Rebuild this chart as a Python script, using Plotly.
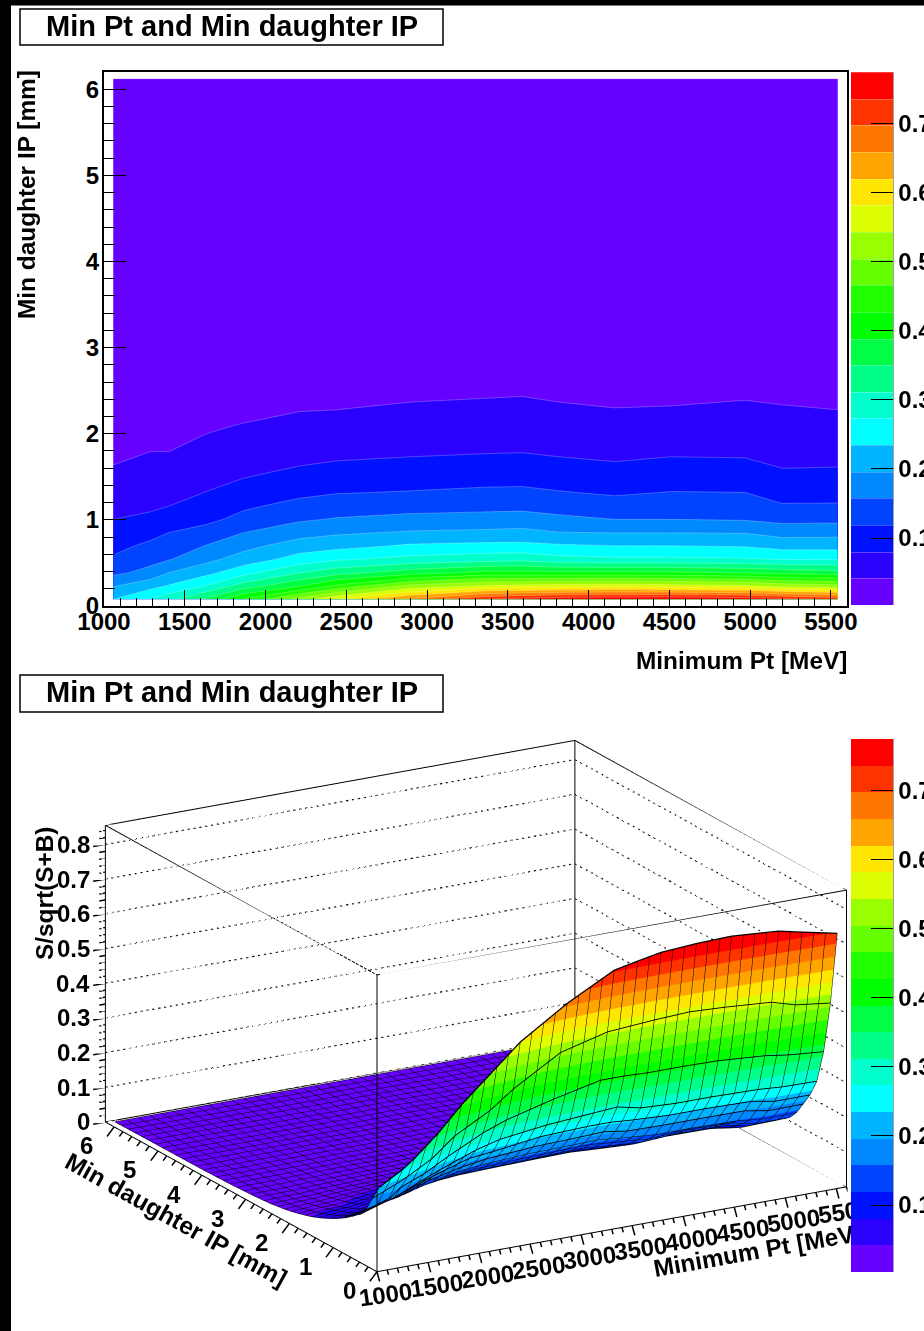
import numpy as np
import plotly.graph_objects as go

W, H = 924, 1331
TITLE = "Min Pt and Min daughter IP"
FONT = "Liberation Sans"

pt_mev = [1057.5, 1287.5, 1402.5, 1632.5, 1862.5, 2207.5, 2437.5, 2897.5,
          3357.5, 3587.5, 3817.5, 4162.5, 4507.5, 4967.5, 5197.5, 5542.5]
ip_mm = [0.0775, 0.2325, 0.3875, 0.5425, 0.6975, 0.8525, 1.0075, 1.1625, 1.3175, 1.4725, 1.6275, 1.7825,
         1.9375, 2.0925, 2.2475, 2.4025, 2.5575, 2.7125, 3.0225, 3.4875, 4.1075, 5.0375, 6.1225]

# S/sqrt(S+B): one list per Pt column, from low IP to high IP
col_1057 = [.235, .193, .148, .124, .108, .093, .08, .069, .059, .05, .042, .036, .03, .025, .021, .018, .015, .013, .01, .007, .005, .004, .003]
col_1287 = [.275, .222, .17, .145, .127, .107, .088, .074, .064, .056, .049, .042, .036, .03, .025, .021, .017, .015, .011, .008, .005, .004, .003]
col_1402 = [.30, .238, .196, .155, .135, .119, .098, .08, .068, .059, .05, .042, .036, .031, .026, .022, .018, .015, .011, .008, .005, .004, .003]
col_1632 = [.36, .275, .223, .185, .159, .132, .11, .094, .081, .07, .06, .051, .044, .038, .032, .027, .022, .019, .014, .009, .006, .004, .003]
col_1862 = [.43, .33, .26, .213, .184, .157, .129, .113, .095, .081, .07, .06, .05, .043, .036, .03, .025, .021, .015, .01, .006, .004, .003]
col_2207 = [.52, .385, .31, .25, .215, .18, .152, .129, .111, .094, .08, .069, .059, .05, .042, .035, .029, .024, .017, .011, .007, .004, .003]
col_2437 = [.58, .435, .335, .268, .222, .19, .16, .137, .117, .1, .085, .072, .061, .052, .043, .036, .03, .025, .018, .011, .007, .004, .003]
col_2897 = [.667, .515, .37, .285, .24, .2, .168, .143, .121, .104, .089, .076, .065, .056, .047, .04, .033, .027, .02, .012, .007, .004, .003]
col_3357 = [.738, .55, .40, .295, .245, .204, .17, .147, .126, .108, .092, .079, .068, .058, .049, .042, .035, .029, .021, .013, .008, .005, .003]
col_3587 = [.752, .555, .40, .30, .245, .207, .172, .148, .127, .109, .093, .08, .069, .059, .05, .043, .036, .03, .022, .013, .008, .005, .003]
col_3817 = [.765, .56, .397, .285, .24, .197, .165, .142, .121, .104, .089, .076, .065, .056, .047, .04, .033, .028, .02, .012, .007, .004, .003]
col_4162 = [.772, .565, .397, .28, .235, .195, .157, .134, .114, .098, .084, .072, .062, .052, .044, .037, .03, .025, .018, .011, .007, .004, .003]
col_4507 = [.775, .56, .395, .28, .235, .195, .157, .14, .12, .104, .089, .076, .064, .054, .045, .038, .031, .026, .018, .011, .007, .004, .003]
col_4967 = [.765, .55, .385, .277, .232, .194, .154, .137, .119, .102, .088, .075, .065, .056, .048, .041, .035, .029, .021, .013, .008, .005, .003]
col_5197 = [.75, .53, .375, .272, .22, .182, .146, .122, .105, .09, .078, .069, .06, .052, .045, .039, .033, .028, .02, .012, .008, .005, .003]
col_5542 = [.728, .517, .366, .27, .22, .183, .147, .122, .107, .092, .079, .07, .06, .05, .043, .036, .03, .025, .018, .011, .007, .004, .003]
z_table = np.array([col_1057, col_1287, col_1402, col_1632, col_1862, col_2207, col_2437, col_2897,
                    col_3357, col_3587, col_3817, col_4162, col_4507, col_4967, col_5197, col_5542]).T

palette = ["#6600ff", "#2b00ff", "#0011ff", "#0044ff", "#0088ff", "#00b4ff", "#00ffff", "#00ffcc", "#00ff88", "#00ff44",
           "#00ff00", "#22ff00", "#66ff00", "#99ff00", "#ddff00", "#ffe600", "#ffa500", "#ff7700", "#ff3300", "#ff0000"]
Z_MIN, Z_MAX = 0.003, 0.775
n = len(palette)
colorscale = []
for i, c in enumerate(palette):
    colorscale += [[i / n, c], [(i + 1) / n, c]]

x_ticks = [1000, 1500, 2000, 2500, 3000, 3500, 4000, 4500, 5000, 5500]
y_ticks = [0, 1, 2, 3, 4, 5, 6]
z_ticks = [0, .1, .2, .3, .4, .5, .6, .7, .8]
cbar_ticks = [.1, .2, .3, .4, .5, .6, .7]
X_RANGE, Y_RANGE, Z_RANGE = (1000, 5600), (0, 6.2), (0, 0.855)


def px(x):
    return x / W


def py(y):
    return 1 - y / H


def cbar(top):
    return dict(x=px(851), xanchor="left", xpad=0, y=py(top), yanchor="top", ypad=0,
                thickness=42, thicknessmode="pixels", len=533, lenmode="pixels",
                outlinewidth=0, tickmode="array", tickvals=cbar_ticks, ticktext=[f"{t:.1f}" for t in cbar_ticks],
                ticks="inside", ticklen=22, tickwidth=1, tickcolor="black",
                tickfont=dict(family=FONT, size=24, color="black", weight=700))


fig = go.Figure()

# ---- top panel ----
fig.add_trace(go.Contour(x=pt_mev, y=ip_mm, z=z_table, zmin=Z_MIN, zmax=Z_MAX, colorscale=colorscale,
                         contours=dict(coloring="fill", start=Z_MIN, end=Z_MAX, size=(Z_MAX - Z_MIN) / n, showlines=True),
                         line=dict(color="rgba(255,255,255,0.25)", width=1, smoothing=0),
                         colorbar=cbar(72), hoverinfo="skip", xaxis="x", yaxis="y"))

ax_font = dict(family=FONT, size=24, color="black", weight=700)
common = dict(showgrid=False, zeroline=False, showline=True, linecolor="black", linewidth=2, mirror=True,
              ticks="inside", tickcolor="black", tickwidth=1, tickfont=ax_font, tickmode="array")
fig.update_layout(
    xaxis=dict(domain=[px(104), px(847)], range=X_RANGE, tickvals=x_ticks, ticklen=16, ticklabelstandoff=-7,
               minor=dict(dtick=100, tick0=1000, ticks="inside", ticklen=8, tickcolor="black", tickwidth=1), **common),
    yaxis=dict(domain=[py(606), py(72)], range=Y_RANGE, tickvals=y_ticks, ticklen=22, ticklabelstandoff=-2,
               minor=dict(dtick=0.2, tick0=0, ticks="inside", ticklen=11, tickcolor="black", tickwidth=1), **common),
)

# ---- bottom panel: 3D surface ----
fig.add_trace(go.Surface(x=pt_mev, y=ip_mm, z=z_table, cmin=Z_MIN, cmax=Z_MAX, colorscale=colorscale,
                         colorbar=cbar(739), hoverinfo="skip", scene="scene",
                         lighting=dict(ambient=1, diffuse=0, specular=0, fresnel=0, roughness=1),
                         contours=dict(
                             x=dict(show=True, start=1057.5, end=5542.5 + 1, size=115, color="black", width=2),
                             y=dict(show=True, start=0.0775, end=6.1225 + 0.01, size=0.155, color="black", width=2),
                             z=dict(show=False))))

# heavier outlines along the steep front rows of the table
for r in range(6):
    fig.add_trace(go.Scatter3d(x=pt_mev, y=[ip_mm[r]] * len(pt_mev), z=z_table[r], mode="lines",
                               line=dict(color="black", width=2.5), scene="scene", hoverinfo="skip", showlegend=False))


def segs(pairs):
    xs, ys, zs = [], [], []
    for a, b in pairs:
        xs += [a[0], b[0], None]
        ys += [a[1], b[1], None]
        zs += [a[2], b[2], None]
    return xs, ys, zs


x0, x1 = X_RANGE
y0, y1 = Y_RANGE
z0, z1 = Z_RANGE
edges = [((x0, y0, z0), (x1, y0, z0)), ((x0, y0, z0), (x0, y1, z0)), ((x1, y0, z0), (x1, y1, z0)), ((x0, y1, z0), (x1, y1, z0)),
         ((x0, y0, z1), (x1, y0, z1)), ((x0, y0, z1), (x0, y1, z1)), ((x1, y0, z1), (x1, y1, z1)), ((x0, y1, z1), (x1, y1, z1)),
         ((x0, y0, z0), (x0, y0, z1)), ((x1, y0, z0), (x1, y0, z1)), ((x0, y1, z0), (x0, y1, z1)), ((x1, y1, z0), (x1, y1, z1))]
xs, ys, zs = segs(edges)
fig.add_trace(go.Scatter3d(x=xs, y=ys, z=zs, mode="lines", line=dict(color="black", width=2), scene="scene",
                           hoverinfo="skip", showlegend=False))

# dotted wall grid: short dashes placed along each z tick level
dots = []
N_X, N_Y = 80, 52
for t in z_ticks[1:]:
    for k in range(N_X):
        a = x0 + (x1 - x0) * k / N_X
        dots.append(((a, y1, t), (a + (x1 - x0) * 0.4 / N_X, y1, t)))
    for k in range(N_Y):
        a = y1 - (y1 - y0) * k / N_Y
        dots.append(((x1, a, t), (x1, a - (y1 - y0) * 0.4 / N_Y, t)))
xs, ys, zs = segs(dots)
fig.add_trace(go.Scatter3d(x=xs, y=ys, z=zs, mode="lines", line=dict(color="black", width=2.5), scene="scene",
                           hoverinfo="skip", showlegend=False))

ticks = []
for i in range(0, 47):
    t = x0 + i * 100
    f = 2 if i % 5 == 0 else 1
    ticks.append(((t, y0, z0), (t, y0 - 0.03 * f, z0 - 0.012 * f)))
for i in range(0, 31):
    t = i * 0.2
    f = 2 if i % 5 == 0 else 1
    ticks.append(((x0, t, z0), (x0 - 35 * f, t, z0 - 0.012 * f)))
for i in range(0, 43):
    t = i * 0.02
    f = 2 if i % 5 == 0 else 1
    ticks.append(((x0, y1, t), (x0 - 60 * f, y1, t)))
xs, ys, zs = segs(ticks)
fig.add_trace(go.Scatter3d(x=xs, y=ys, z=zs, mode="lines", line=dict(color="black", width=3), scene="scene",
                           hoverinfo="skip", showlegend=False))

# extended scene ranges leave room for the outward ticks
X_EXT, Y_EXT, Z_EXT = (860, 5600), (-0.1, 6.2), (-0.04, 0.855)
ZOOM = 1.715
AX, AY, AZ = 1.0 * ZOOM, 1.01 * ZOOM, 0.578 * ZOOM
aspect = dict(x=AX * (X_EXT[1] - X_EXT[0]) / 4600, y=AY * (Y_EXT[1] - Y_EXT[0]) / 6.2, z=AZ * (Z_EXT[1] - Z_EXT[0]) / 0.855)
phi, theta = np.radians(29.8), np.radians(18.4)
R = 2.5
eye = dict(x=-R * np.sin(phi) * np.cos(theta), y=-R * np.cos(phi) * np.cos(theta), z=R * np.sin(theta))
cx = (sum(X_EXT) / 2 - 1000) / 4600
cy = sum(Y_EXT) / 2 / 6.2
cz = sum(Z_EXT) / 2 / 0.855
center_px = (377 + cx * 470 - cy * 272, 1272 - cx * 85 - cy * 150 - cz * 297)
half_w, half_h = 400, 1331 - center_px[1]
axis3d = dict(visible=False, showgrid=False, zeroline=False, showspikes=False)
tick3d = dict(family=FONT, size=24, color="black", weight=700)
scene_notes = []
for t in x_ticks:
    scene_notes.append(dict(x=t, y=y0, z=z0, text=str(t), showarrow=False, textangle=-8, font=tick3d, xshift=8, yshift=-23))
for t in y_ticks:
    scene_notes.append(dict(x=x0, y=t, z=z0, text=str(t), showarrow=False, font=tick3d, xshift=-28, yshift=-19))
for t in z_ticks:
    scene_notes.append(dict(x=x0, y=y1, z=t, text=f"{t:g}", showarrow=False, font=tick3d, xanchor="right", xshift=-13))

fig.update_layout(scene=dict(
    domain=dict(x=[px(center_px[0] - half_w), px(center_px[0] + half_w)],
                y=[py(center_px[1] + half_h), py(center_px[1] - half_h)]),
    xaxis=dict(range=X_EXT, **axis3d), yaxis=dict(range=Y_EXT, **axis3d), zaxis=dict(range=Z_EXT, **axis3d),
    aspectmode="manual", aspectratio=aspect,
    camera=dict(eye=eye, up=dict(x=0, y=0, z=1), center=dict(x=0, y=0, z=0), projection=dict(type="orthographic")),
    annotations=scene_notes))

# ---- text and frames ----
shapes = [dict(type="rect", xref="paper", yref="paper", x0=0, x1=px(11), y0=0, y1=1, fillcolor="black", line_width=0),
          dict(type="rect", xref="paper", yref="paper", x0=0, x1=1, y0=py(5.5), y1=1, fillcolor="black", line_width=0)]
for top, bottom in [(9, 45), (675, 712)]:
    shapes.append(dict(type="rect", xref="paper", yref="paper", x0=px(20), x1=px(443), y0=py(bottom), y1=py(top),
                       fillcolor="white", line=dict(color="black", width=1.5)))
for top, bottom in [(72, 605), (739, 1272)]:
    shapes.append(dict(type="line", xref="paper", yref="paper", x0=px(893), x1=px(893), y0=py(bottom), y1=py(top),
                       line=dict(color="#444444", width=1)))


def note(x, y, text, size, angle=0):
    return dict(x=px(x), y=py(y), xref="paper", yref="paper", text=text, showarrow=False, textangle=angle,
                font=dict(family=FONT, size=size, color="black", weight=700), xanchor="center", yanchor="middle")


notes = [note(231.5, 26, TITLE, 29), note(231.5, 692, TITLE, 29),
         note(741, 660, "Minimum Pt [MeV]", 24.4),
         note(26, 195, "Min daughter IP [mm]", 24.4, -90),
         note(44, 893, "S/sqrt(S+B)", 24.4, -90),
         note(176, 1219, "Min daughter IP [mm]", 24.4, 29),
         note(757, 1250, "Minimum Pt [MeV]", 24.4, -10)]

fig.update_layout(width=W, height=H, margin=dict(l=0, r=0, t=0, b=0, autoexpand=False), paper_bgcolor="white",
                  plot_bgcolor="white", showlegend=False, shapes=shapes, annotations=notes)
fig.write_html("out.html", config={"displayModeBar": False},
               post_script="document.body.style.margin='0';"
                           "document.querySelectorAll('.infolayer .colorbar').forEach(function(c){c.parentNode.appendChild(c);});")
